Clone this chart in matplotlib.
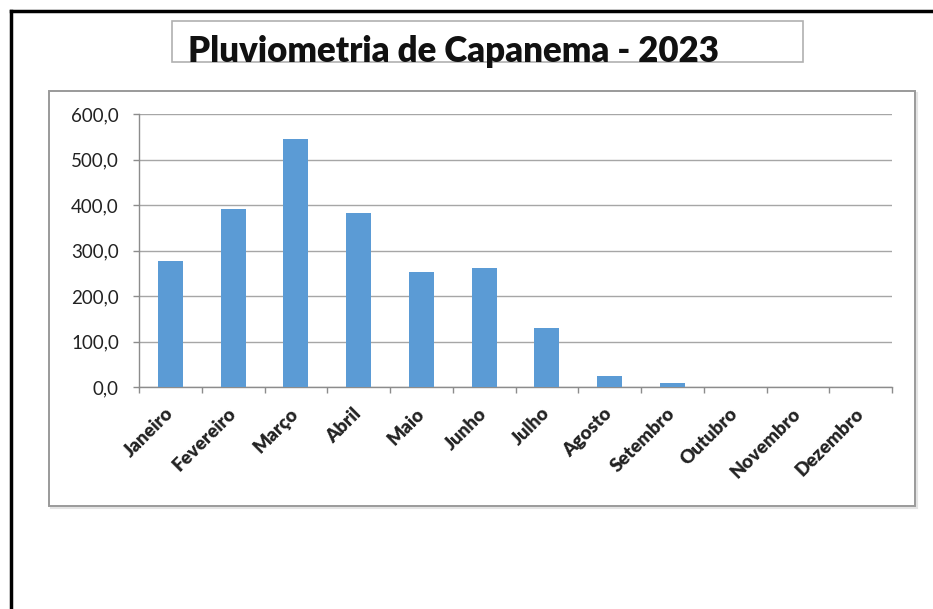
import matplotlib.pyplot as plt
import numpy as np
from matplotlib.patches import Rectangle
from matplotlib.lines import Line2D
from matplotlib.transforms import ScaledTranslation

meses = ["Janeiro", "Fevereiro", "Março", "Abril", "Maio", "Junho",
         "Julho", "Agosto", "Setembro", "Outubro", "Novembro", "Dezembro"]
chuva_mm = [277, 392, 544, 382, 253, 261, 130, 25, 8, 0, 0, 0]
y_ticks = [0, 100, 200, 300, 400, 500, 600]

W, H = 933, 609
fig = plt.figure(figsize=(W / 100, H / 100), dpi=100)
fig.patch.set_facecolor('white')


def px(x0, y0, x1, y1):
    # pixel box (top-left origin) -> figure fraction
    return [x0 / W, 1 - y1 / H, (x1 - x0) / W, (y1 - y0) / H]


# outer black frame (top + left only visible)
fig.add_artist(Line2D([11 / W, 1], [1 - 11 / H] * 2, color='black', lw=2.5, transform=fig.transFigure))
fig.add_artist(Line2D([11 / W] * 2, [0, 1 - 11 / H], color='black', lw=2.5, transform=fig.transFigure))

# title box
x, y, w, h = px(172, 21, 803, 62)
fig.add_artist(Rectangle((x, y), w, h, transform=fig.transFigure, fill=False,
                         edgecolor='#b0b0b0', lw=1.2, zorder=-1))
fig.text(454 / W, 1 - 62 / H, "Pluviometria de Capanema - 2023", ha='center', va='baseline',
         fontsize=25, fontweight='heavy', family='Lato', color='#111111')

# chart box
x, y, w, h = px(49, 91, 915, 506)
fig.add_artist(Rectangle((x + 1.5 / W, y - 1.5 / H), w, h, transform=fig.transFigure,
                         fill=True, facecolor='#e4e4e4', edgecolor='#e4e4e4', lw=1.5, zorder=-3))
fig.add_artist(Rectangle((x, y), w, h, transform=fig.transFigure, facecolor='white',
                         edgecolor='#9a9a9a', lw=1.4, zorder=-2))

ax = fig.add_axes(px(139, 114, 892, 387))
ax.set_facecolor('none')
pos = np.arange(len(meses))
ax.bar(pos, chuva_mm, width=0.4, color='#5b9bd5', zorder=3)

ax.set_xlim(-0.5, len(meses) - 0.5)
ax.set_ylim(0, 600)
ax.set_yticks(y_ticks)
ax.set_yticklabels([f"{v:.1f}".replace('.', ',') for v in y_ticks])
ax.yaxis.grid(True, color='#a6a6a6', lw=1)
ax.set_axisbelow(True)

ax.set_xticks(pos)
ax.set_xticklabels(meses, rotation=45, ha='right', va='center', rotation_mode='anchor',
                   fontweight='heavy', family='Lato', fontsize=13.5, color='#222222')
shift = ScaledTranslation(5 / 100, 0, fig.dpi_scale_trans)
for lab in ax.get_xticklabels():
    lab.set_transform(lab.get_transform() + shift)
ax.set_xticks(np.arange(-0.5, len(meses)), minor=True)
ax.tick_params(axis='x', which='major', length=0, pad=17)
ax.tick_params(axis='x', which='minor', length=4, color='#8c8c8c', width=1)
ax.tick_params(axis='y', length=4, color='#8c8c8c', width=1, pad=10.5, labelsize=13.5,
               labelcolor='#222222')
for lab in ax.get_yticklabels():
    lab.set_family('Lato')

for s in ['top', 'right']:
    ax.spines[s].set_visible(False)
for s in ['left', 'bottom']:
    ax.spines[s].set_color('#8c8c8c')
    ax.spines[s].set_linewidth(1)

fig.savefig('out.png', dpi=100)
